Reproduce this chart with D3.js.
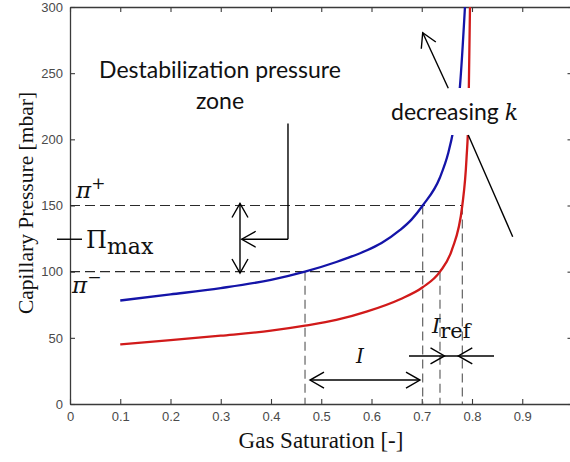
<!DOCTYPE html>
<html>
<head>
<meta charset="utf-8">
<script src="https://cdn.jsdelivr.net/npm/d3@7"></script>
<style>
  html, body { margin: 0; padding: 0; background: #fff; }
  svg { display: block; }
</style>
</head>
<body>
<svg id="chart" width="570" height="462"></svg>
<script>
// ---------------- data ----------------
const xTickValues = [0, 0.1, 0.2, 0.3, 0.4, 0.5, 0.6, 0.7, 0.8, 0.9, 1];
const xTickLabels = ["0", "0.1", "0.2", "0.3", "0.4", "0.5", "0.6", "0.7", "0.8", "0.9", ""];
const yTickValues = [0, 50, 100, 150, 200, 250, 300];
const yTickLabels = ["0", "50", "100", "150", "200", "250", "300"];

// Capillary pressure curves [gas saturation, pressure mbar]
const blueCurve = [
  [0.10, 78.2], [0.20, 82.8], [0.30, 87.6], [0.40, 93.8], [0.4677, 100.0],
  [0.53, 107.3], [0.55, 110.0], [0.59, 116.0], [0.62, 121.7], [0.657, 131.5],
  [0.68, 139.5], [0.7019, 150.0], [0.736, 171.0], [0.753, 190.0], [0.763, 207.0],
  [0.776, 240.0], [0.786, 300.0]
];
const redCurve = [
  [0.10, 45.1], [0.20, 48.2], [0.30, 51.6], [0.40, 55.4], [0.4677, 59.2],
  [0.53, 63.5], [0.59, 69.8], [0.657, 79.2], [0.7019, 88.2], [0.7363, 100.0],
  [0.76, 116.5], [0.7807, 150.0], [0.789, 185.0], [0.793, 220.0], [0.796, 300.0]
];

// reference levels / saturations
const piPlus = 150, piMinus = 100, piMax = 124.5;
const verticalRefs = [
  { s: 0.4677, p: piMinus }, { s: 0.7019, p: piPlus },
  { s: 0.7363, p: piMinus }, { s: 0.7807, p: piPlus }
];
const horizontalRefs = [ { p: piPlus, s: 0.7807 }, { p: piMinus, s: 0.7363 } ];

// ---------------- layout ----------------
const svg = d3.select("#chart");
const x = d3.scaleLinear().domain([0, 1]).range([70, 572.5]);
const y = d3.scaleLinear().domain([0, 300]).range([404, 7]);

const axisColor = "#3a3a3a";
const tickTextColor = "#4a4a4a";

function styleAxis(g, showText) {
  g.select(".domain").attr("stroke", axisColor).attr("stroke-width", 1.3);
  g.selectAll(".tick line").attr("stroke", axisColor).attr("stroke-width", 1.1);
  g.selectAll(".tick text")
    .attr("fill", tickTextColor)
    .style("font-family", "'Liberation Sans', Arial, sans-serif")
    .style("font-size", "13px");
  if (!showText) g.selectAll(".tick text").remove();
}

// axes (MATLAB-style box with inward ticks)
svg.append("g").attr("transform", `translate(0,${y(0)})`)
  .call(d3.axisBottom(x).tickValues(xTickValues).tickFormat((d, i) => xTickLabels[i])
    .tickSizeInner(-5).tickSizeOuter(0).tickPadding(8))
  .call(g => styleAxis(g, true));
svg.append("g").attr("transform", `translate(0,${y(300)})`)
  .call(d3.axisTop(x).tickValues(xTickValues).tickSizeInner(-5).tickSizeOuter(0))
  .call(g => styleAxis(g, false));
svg.append("g").attr("transform", `translate(${x(0)},0)`)
  .call(d3.axisLeft(y).tickValues(yTickValues).tickFormat((d, i) => yTickLabels[i])
    .tickSizeInner(-5).tickSizeOuter(0).tickPadding(7))
  .call(g => styleAxis(g, true));
svg.append("g").attr("transform", `translate(${x(1)},0)`)
  .call(d3.axisRight(y).tickValues(yTickValues).tickSizeInner(-5).tickSizeOuter(0))
  .call(g => styleAxis(g, false));

// axis titles
svg.append("text")
  .attr("x", 321).attr("y", 448)
  .attr("text-anchor", "middle")
  .style("font-family", "'Liberation Serif', 'Times New Roman', serif")
  .style("font-size", "23px")
  .attr("fill", "#111")
  .text("Gas Saturation [-]");
svg.append("text")
  .attr("transform", "translate(33,203) rotate(-90)")
  .attr("text-anchor", "middle")
  .style("font-family", "'Liberation Serif', 'Times New Roman', serif")
  .style("font-size", "21.5px")
  .attr("fill", "#111")
  .text("Capillary Pressure [mbar]");

// dashed reference lines
const dashG = svg.append("g");
dashG.selectAll("line.h").data(horizontalRefs).join("line")
  .attr("x1", x(0)).attr("x2", d => x(d.s))
  .attr("y1", d => y(d.p)).attr("y2", d => y(d.p))
  .attr("stroke", "#2a2a2a").attr("stroke-width", 1.1).attr("stroke-dasharray", "10,5");
dashG.selectAll("line.v").data(verticalRefs).join("line")
  .attr("x1", d => x(d.s)).attr("x2", d => x(d.s))
  .attr("y1", d => y(d.p)).attr("y2", y(0))
  .attr("stroke", "#555").attr("stroke-width", 1.1).attr("stroke-dasharray", "9,5");

// curves
const line = d3.line().x(d => x(d[0])).y(d => y(d[1])).curve(d3.curveMonotoneX);
svg.append("path").datum(blueCurve).attr("d", line)
  .attr("fill", "none").attr("stroke", "#1414a8").attr("stroke-width", 2.3);
svg.append("path").datum(redCurve).attr("d", line)
  .attr("fill", "none").attr("stroke", "#d11a1a").attr("stroke-width", 2.3);

// ---------------- annotations ----------------
const ann = svg.append("g").attr("stroke", "#000").attr("stroke-width", 1.4).attr("fill", "none");
function seg(a, b) {
  ann.append("line").attr("x1", a[0]).attr("y1", a[1]).attr("x2", b[0]).attr("y2", b[1]);
}
function head(tip, from, L = 14, W = 8) {
  const dx = tip[0] - from[0], dy = tip[1] - from[1];
  const len = Math.hypot(dx, dy), ux = dx / len, uy = dy / len;
  const bx = tip[0] - L * ux, by = tip[1] - L * uy;
  ann.append("path")
    .attr("d", `M${bx - W * uy},${by + W * ux} L${tip[0]},${tip[1]} L${bx + W * uy},${by - W * ux}`);
}
const P = (s, p) => [x(s), y(p)];

// double arrow between pi- and pi+
const dA = P(0.3383, 151.5), dB = P(0.3383, 99);
seg(dA, dB); head(dA, dB); head(dB, dA);

// callout from "Destabilization pressure zone"
const c1 = P(0.4338, 212), c2 = P(0.4338, piMax), c3 = P(0.3417, piMax);
seg(c1, c2); seg(c2, c3); head(c3, c2);

// Pi_max tick mark
seg([57, y(piMax)], [82, y(piMax)]);

// I double arrow
const iA = P(0.4776, 18.1), iB = P(0.6965, 18.1);
seg(iA, iB); head(iA, iB); head(iB, iA);

// I_ref arrows
const rL = P(0.6746, 36.3), rR = P(0.8438, 36.3);
const rT1 = P(0.7453, 36.3), rT2 = P(0.7727, 36.3);
seg(rL, rR); head(rT1, rL); head(rT2, rR);

// decreasing k arrows
const kU1 = P(0.7528, 238.6), kU2 = P(0.7019, 280.6);
seg(kU1, kU2); head(kU2, kU1);
const kL1 = P(0.7926, 203.3), kL2 = P(0.881, 126.4);

// white box behind "decreasing k"
svg.append("rect").attr("x", 388).attr("y", 88).attr("width", 138).attr("height", 47).attr("fill", "#fff");
ann.raise();
seg(kL1, kL2);

// ---------------- texts ----------------
const sans = "Lato, 'Open Sans', sans-serif";
const mathF = "'DejaVu Serif', serif";
const txt = svg.append("g").attr("fill", "#111");

txt.append("text").attr("x", 220).attr("y", 78).attr("text-anchor", "middle")
  .style("font-family", sans).style("font-size", "23px").text("Destabilization pressure");
txt.append("text").attr("x", 220).attr("y", 109).attr("text-anchor", "middle")
  .style("font-family", sans).style("font-size", "23px").text("zone");

const dk = txt.append("text").attr("x", 391).attr("y", 120)
  .style("font-family", sans).style("font-size", "23px");
dk.append("tspan").text("decreasing ");
dk.append("tspan").style("font-family", mathF).style("font-style", "italic").style("font-size", "22px").text("k");

// pi+
const pp = txt.append("text").attr("x", 76).attr("y", 198).style("font-family", mathF);
pp.append("tspan").style("font-style", "italic").style("font-size", "23px").text("π");
pp.append("tspan").attr("dy", -9).style("font-size", "17px").text("+");

// pi-
const pm = txt.append("text").attr("x", 72).attr("y", 293).style("font-family", mathF);
pm.append("tspan").style("font-style", "italic").style("font-size", "23px").text("π");
pm.append("tspan").attr("dy", -10).style("font-size", "17px").text("−");

// Pi_max
const px = txt.append("text").attr("x", 86).attr("y", 248).style("font-family", mathF);
px.append("tspan").style("font-size", "24px").text("Π");
px.append("tspan").attr("dy", 6).style("font-size", "22px").text("max");

// I
txt.append("text").attr("x", 360).attr("y", 363).attr("text-anchor", "middle")
  .style("font-family", mathF).style("font-style", "italic").style("font-size", "20px").text("I");

// I_ref
const ir = txt.append("text").attr("x", 432).attr("y", 333).style("font-family", mathF);
ir.append("tspan").style("font-style", "italic").style("font-size", "21px").text("I");
ir.append("tspan").attr("dy", 5).style("font-size", "21px").text("ref");
</script>
</body>
</html>
